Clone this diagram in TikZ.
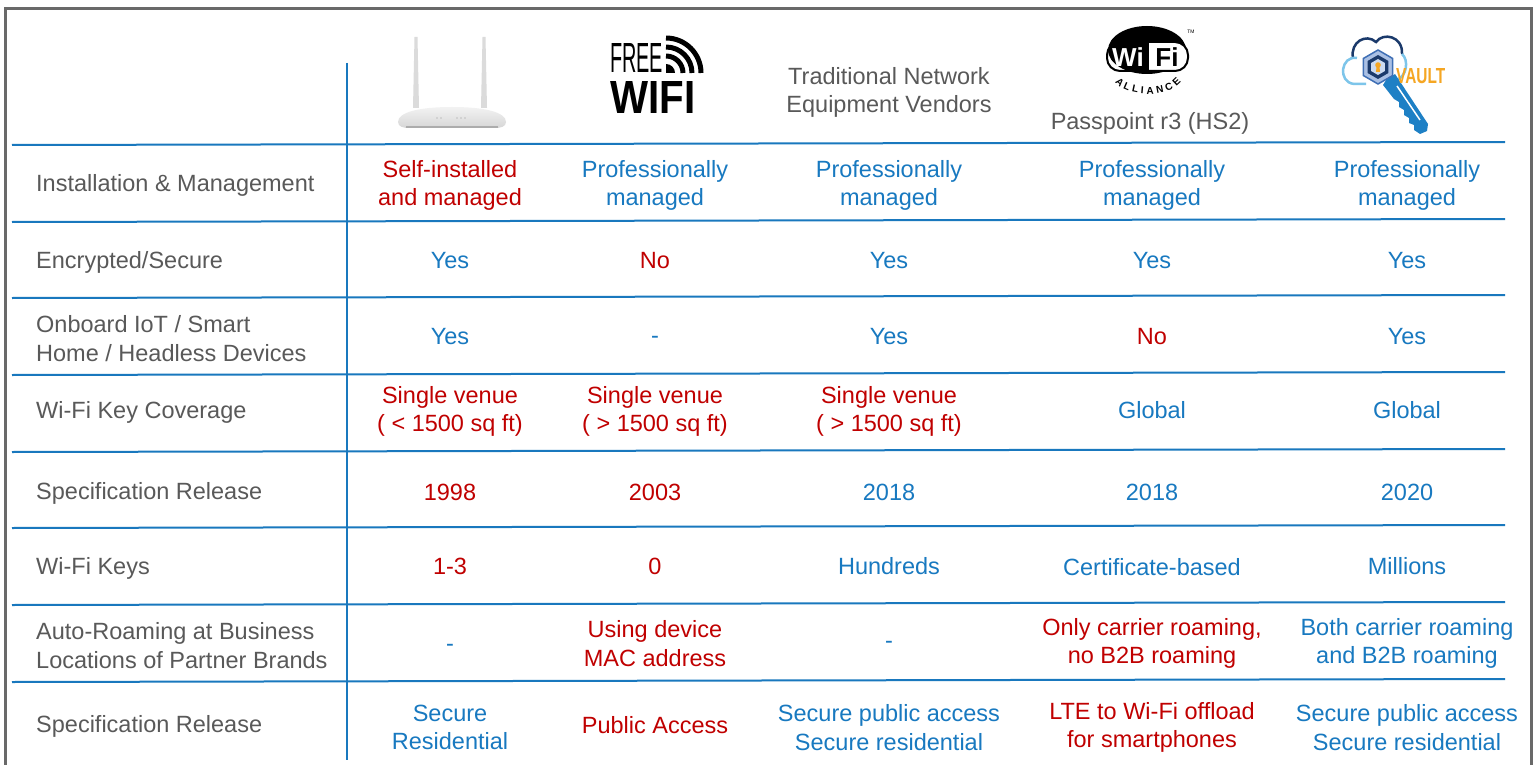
\documentclass[tikz,border=0pt]{standalone}
\usepackage{fontspec}
\setmainfont{Liberation Sans}
\usetikzlibrary{decorations.text}
\definecolor{labelgray}{RGB}{89,89,89}
\definecolor{cblue}{RGB}{24,121,192}
\definecolor{cred}{RGB}{192,0,0}
\definecolor{lineblue}{RGB}{25,120,190}
\definecolor{framegray}{RGB}{105,105,105}
\definecolor{vnavy}{RGB}{27,58,107}
\definecolor{vlight}{RGB}{125,197,234}
\definecolor{vorange}{RGB}{245,166,35}
\definecolor{vkey}{RGB}{30,128,197}
\definecolor{vhexfill}{RGB}{170,192,228}
\definecolor{vhexline}{RGB}{63,111,181}
\definecolor{vhexin}{RGB}{205,219,240}
\newcommand\cellfont{\fontsize{23.5}{28.3}\selectfont}
\tikzset{
  lbl/.style={text=labelgray, font=\cellfont, align=left, anchor=west, inner sep=0pt, yshift=-2.5pt},
  bl/.style={text=cblue, font=\cellfont, align=center, inner sep=0pt, yshift=-2.5pt},
  rd/.style={text=cred, font=\cellfont, align=center, inner sep=0pt, yshift=-2.5pt},
  hdr/.style={text=labelgray, font=\cellfont, align=center, inner sep=0pt, yshift=-2.5pt},
  gridline/.style={draw=lineblue, line width=2pt},
  logotxt/.style={inner sep=0pt, anchor=north west},
}
\begin{document}
\begin{tikzpicture}[x=1pt,y=-1pt]
\useasboundingbox (0,0) rectangle (1534,765);
\fill[white] (0,0) rectangle (1534,765);
% frame
\draw[framegray, line width=3pt] (5,9) rectangle (1531,772);
% grid
\foreach \yy in {145,222,298,375,452,528,605,682}
  \draw[gridline] (12,\yy) -- (1505,\yy-3);
\draw[gridline] (347,63) -- (347,760);

% ---------- router icon ----------
\fill[gray!28] (413,108) -- (414.5,37) -- (417.5,37) -- (419,108) -- cycle;
\fill[gray!28] (481,108) -- (482.5,37) -- (485.5,37) -- (487,108) -- cycle;
\shade[top color=gray!10, bottom color=gray!32] (398,122) .. controls (398,112) and (420,107) .. (452,107) .. controls (484,107) and (506,112) .. (506,122) .. controls (506,127) and (500,128) .. (495,128) -- (409,128) .. controls (404,128) and (398,127) .. (398,122) -- cycle;
\draw[gray!65, line width=1.5pt] (406,127) -- (498,127);
\foreach \xx in {437,441,457,461,465} \fill[gray!50] (\xx,118) circle (0.8);

% ---------- free wifi icon ----------
\node[logotxt] (freetxt) at (610,43) {\resizebox{53pt}{29pt}{FREE}};
\node[logotxt] (wifitxt) at (610,81) {\resizebox{85pt}{32pt}{\bfseries WIFI}};
\fill[black] (666,73) -- ++(0:9) arc[start angle=0, end angle=-90, radius=9] -- cycle;
\foreach \rr in {17,26,35}
  \draw[black, line width=5pt] (666,73) ++(0:\rr) arc[start angle=0, end angle=-90, radius=\rr];

% ---------- traditional vendors ----------
\node[hdr] (hdr3) at (889,90) {Traditional Network\\Equipment Vendors};

% ---------- wifi alliance icon ----------
\fill[black] (1147,50) ellipse [x radius=39, y radius=24];
\begin{scope}
  \clip[rounded corners=13pt] (1107,42) rectangle (1188,71);
  \fill[white] (1149,42) rectangle (1188,71);
\end{scope}
\draw[black, line width=2pt, rounded corners=13pt] (1107,42) rectangle (1188,71);
\node[inner sep=0pt, text=white, font=\bfseries\fontsize{26}{26}\selectfont] (witxt) at (1128,57) {Wi};
\node[inner sep=0pt, font=\bfseries\fontsize{26}{26}\selectfont] (fitxt) at (1167,57) {Fi};
\node[inner sep=0pt, font=\fontsize{5}{5}\selectfont] (tmtxt) at (1191,32) {TM};
\path[decorate, decoration={text along path, text={|\bfseries\fontsize{10}{10}\selectfont|ALLIANCE}, text align={fit to path}}]
  (1115,82) .. controls (1127,98) and (1169,98) .. (1181,82);
\node[hdr] (hdr4) at (1150,121) {Passpoint r3 (HS2)};

% ---------- vault icon ----------
\draw[vnavy, line width=2.5pt] (1353,58) .. controls (1350,42) and (1366,33) .. (1376,42) .. controls (1383,32) and (1403,36) .. (1402,54);
\draw[vlight, line width=2.5pt] (1357,58) .. controls (1341,55) and (1337,82) .. (1354,84) -- (1366,84);
\draw[vlight, line width=2.5pt] (1402,54) .. controls (1409,60) and (1407,77) .. (1396,80);
\fill[vkey] (1386,80) -- (1395,74) -- (1428,124) -- (1427,131) -- (1420,134) -- (1414,130) -- (1414,125) -- (1409,123) -- (1409,118) -- (1404,115) -- (1404,110) -- (1399,107) -- (1399,102) -- (1394,99) -- (1383,85) -- cycle;
\draw[white, line width=1.5pt] (1397,86) -- (1420,120);
\filldraw[fill=vhexfill, draw=vhexline, line width=1.5pt] (1378,50) -- (1392.7,58.5) -- (1392.7,75.5) -- (1378,84) -- (1363.3,75.5) -- (1363.3,58.5) -- cycle;
\fill[vnavy] (1378,55) -- (1388.4,61) -- (1388.4,73) -- (1378,79) -- (1367.6,73) -- (1367.6,61) -- cycle;
\fill[vhexin] (1378,59) -- (1384.9,63) -- (1384.9,71) -- (1378,75) -- (1371.1,71) -- (1371.1,63) -- cycle;
\fill[vorange] (1378,65) circle (2.8);
\fill[vorange] (1376.6,66) -- (1379.4,66) -- (1380,72) -- (1376,72) -- cycle;
\node[logotxt, text=vorange] (vaulttxt) at (1396,68) {\resizebox{49pt}{15pt}{\bfseries VAULT}};

% ---------- row labels ----------
\node[lbl] (l1) at (36,183) {Installation \& Management};
\node[lbl] (l2) at (36,260) {Encrypted/Secure};
\node[lbl] (l3) at (36,336) {Onboard IoT / Smart\\Home / Headless Devices};
\node[lbl] (l4) at (36,410) {Wi-Fi Key Coverage};
\node[lbl] (l5) at (36,491) {Specification Release};
\node[lbl] (l6) at (36,566) {Wi-Fi Keys};
\node[lbl] (l7) at (36,643) {Auto-Roaming at Business\\Locations of Partner Brands};
\node[lbl] (l8) at (36,724) {Specification Release};

% ---------- row 1 ----------
\node[rd] (c11) at (450,183) {Self-installed\\and managed};
\node[bl] (c12) at (655,183) {Professionally\\managed};
\node[bl] (c13) at (889,183) {Professionally\\managed};
\node[bl] (c14) at (1152,183) {Professionally\\managed};
\node[bl] (c15) at (1407,183) {Professionally\\managed};
% ---------- row 2 ----------
\node[bl] (c21) at (450,258) {Yes};
\node[rd] (c22) at (655,258) {No};
\node[bl] (c23) at (889,258) {Yes};
\node[bl] (c24) at (1152,258) {Yes};
\node[bl] (c25) at (1407,258) {Yes};
% ---------- row 3 ----------
\node[bl] (c31) at (450,334) {Yes};
\node[bl] (c32) at (655,337) {-};
\node[bl] (c33) at (889,334) {Yes};
\node[rd] (c34) at (1152,334) {No};
\node[bl] (c35) at (1407,334) {Yes};
% ---------- row 4 ----------
\node[rd] (c41) at (450,409) {Single venue\\( < 1500 sq ft)};
\node[rd] (c42) at (655,409) {Single venue\\( > 1500 sq ft)};
\node[rd] (c43) at (889,409) {Single venue\\( > 1500 sq ft)};
\node[bl] (c44) at (1152,408) {Global};
\node[bl] (c45) at (1407,408) {Global};
% ---------- row 5 ----------
\node[rd] (c51) at (450,489.5) {1998};
\node[rd] (c52) at (655,489.5) {2003};
\node[bl] (c53) at (889,489.5) {2018};
\node[bl] (c54) at (1152,489.5) {2018};
\node[bl] (c55) at (1407,489.5) {2020};
% ---------- row 6 ----------
\node[rd] (c61) at (450,564) {1-3};
\node[rd] (c62) at (655,564) {0};
\node[bl] (c63) at (889,564) {Hundreds};
\node[bl] (c64) at (1152,565) {Certificate-based};
\node[bl] (c65) at (1407,564) {Millions};
% ---------- row 7 ----------
\node[bl] (c71) at (450,645) {-};
\node[rd] (c72) at (655,641) {Using device\\MAC address};
\node[bl] (c73) at (889,642) {-};
\node[rd] (c74) at (1152,641) {Only carrier roaming,\\no B2B roaming};
\node[bl] (c75) at (1407,641) {Both carrier roaming\\and B2B roaming};
% ---------- row 8 ----------
\node[bl] (c81) at (450,725) {Secure\\Residential};
\node[rd] (c82) at (655,723) {Public Access};
\node[bl] (c83) at (889,725) {Secure public access\\Secure residential};
\node[rd] (c84) at (1152,725) {LTE to Wi-Fi offload\\for smartphones};
\node[bl] (c85) at (1407,725) {Secure public access\\Secure residential};
\end{tikzpicture}
\end{document}
